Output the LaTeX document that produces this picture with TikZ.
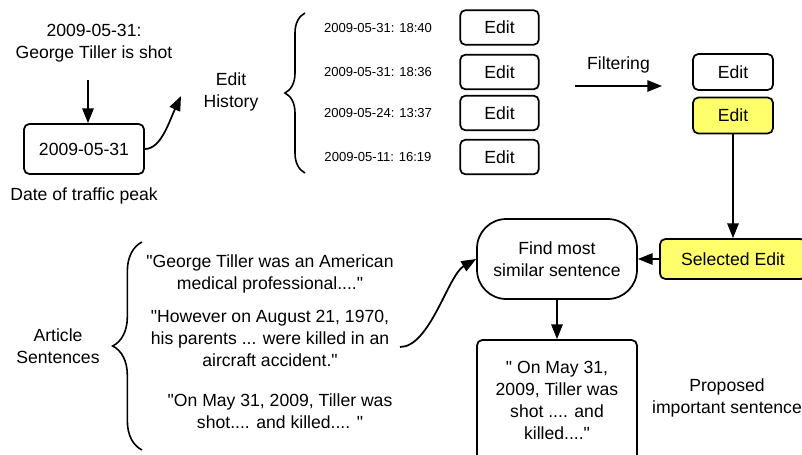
\documentclass[tikz,border=0pt]{standalone}
\usepackage{fontspec}
\setmainfont{Liberation Sans}[Ligatures=TeXOff]
\usetikzlibrary{arrows.meta,decorations.pathreplacing}

\definecolor{hilite}{HTML}{FFFF6B}

\tikzset{
  box/.style={draw, line width=1.3pt, rounded corners=4pt, align=center},
  editbox/.style={box, minimum width=59pt, minimum height=26pt},
  arr/.style={line width=1.3pt, -{Triangle[length=11pt,width=8.5pt]}},
  brc/.style={line width=1.2pt, decorate, decoration={brace}},
  small/.style={font=\fontsize{9.8}{12}\selectfont}
}

\begin{document}
\begin{tikzpicture}[x=0.75pt, y=-0.75pt, font=\fontsize{13.2}{16.5}\selectfont]
    \useasboundingbox (0,0) rectangle (802,454);
    \clip (0,0) rectangle (802,454);

    % Date of traffic peak
    \node[align=center] (shot) at (94,43) {2009-05-31:\\George Tiller is shot};
    \node[box, minimum width=90pt, minimum height=37.5pt] (peak) at (84,149) {2009-05-31};
    \node (peaklbl) at (84,196) {Date of traffic peak};
    \coordinate (shotout) at (88,80);
    \draw[arr] (shotout) -- (shotout |- peak.north);

    % Edit history
    \node[align=center] (hist) at (231,92) {Edit\\History};
    \coordinate (histin) at (181,96);
    \draw[arr] (peak.east) .. controls +(16,0) and +(-12,26) .. (histin);
    \draw[brc, decoration={amplitude=15pt}] (305,173) -- (305,13);
    \foreach \y/\t [count=\i] in {27.5/2009-05-31: 18:40, 72/2009-05-31: 18:36,
                                  113/2009-05-24: 13:37, 157/2009-05-11: 16:19} {
        \node[small] (t\i) at (378,\y) {\t};
        \node[editbox] (e\i) at (499.5,\y) {Edit};
    }

    % Filtering
    \coordinate (fa) at (575,86);
    \coordinate (fb) at (662,86);
    \draw[arr] (fa) -- (fb) node[midway, above=6pt] (filt) {Filtering};
    \node[editbox, minimum width=60pt, minimum height=27pt] (f1) at (733,72) {Edit};
    \node[editbox, minimum width=60pt, minimum height=27pt, fill=hilite] (f2) at (733,115.5) {Edit};

    % Selected edit and sentence matching
    \node[box, fill=hilite, minimum width=109.5pt, minimum height=30pt] (sel) at (733,259) {Selected Edit};
    \node[box, rounded corners=22pt, minimum width=120pt, minimum height=60pt] (find) at (557,259) {Find most\\similar sentence};
    \node[box, minimum width=120pt, minimum height=90pt] (prop) at (557,400) {" On May 31,\\2009, Tiller was\\shot .... and\\killed...."};
    \node[align=center] (proplbl) at (727,398) {Proposed\\important sentence};
    \draw[arr] (f2) -- (sel);
    \draw[arr] (sel) -- (find);
    \draw[arr] (find) -- (prop);

    % Article sentences
    \node[align=center] (art) at (58,346) {Article\\Sentences};
    \draw[brc, decoration={amplitude=22pt}] (142,450) -- (142,242);
    \node[align=center] (s1) at (270,274) {"George Tiller was an American\\medical professional...."};
    \node[align=center] (s2) at (270,338) {"However on August 21, 1970,\\his parents ... were killed in an\\aircraft accident."};
    \node[align=center] (s3) at (280,411) {"On May 31, 2009, Tiller was\\shot.... and killed.... "};
    \coordinate (s2out) at (400,347);
    \draw[arr] (s2out) .. controls +(30,0) and +(-28,16) .. (find.west);
\end{tikzpicture}
\end{document}
